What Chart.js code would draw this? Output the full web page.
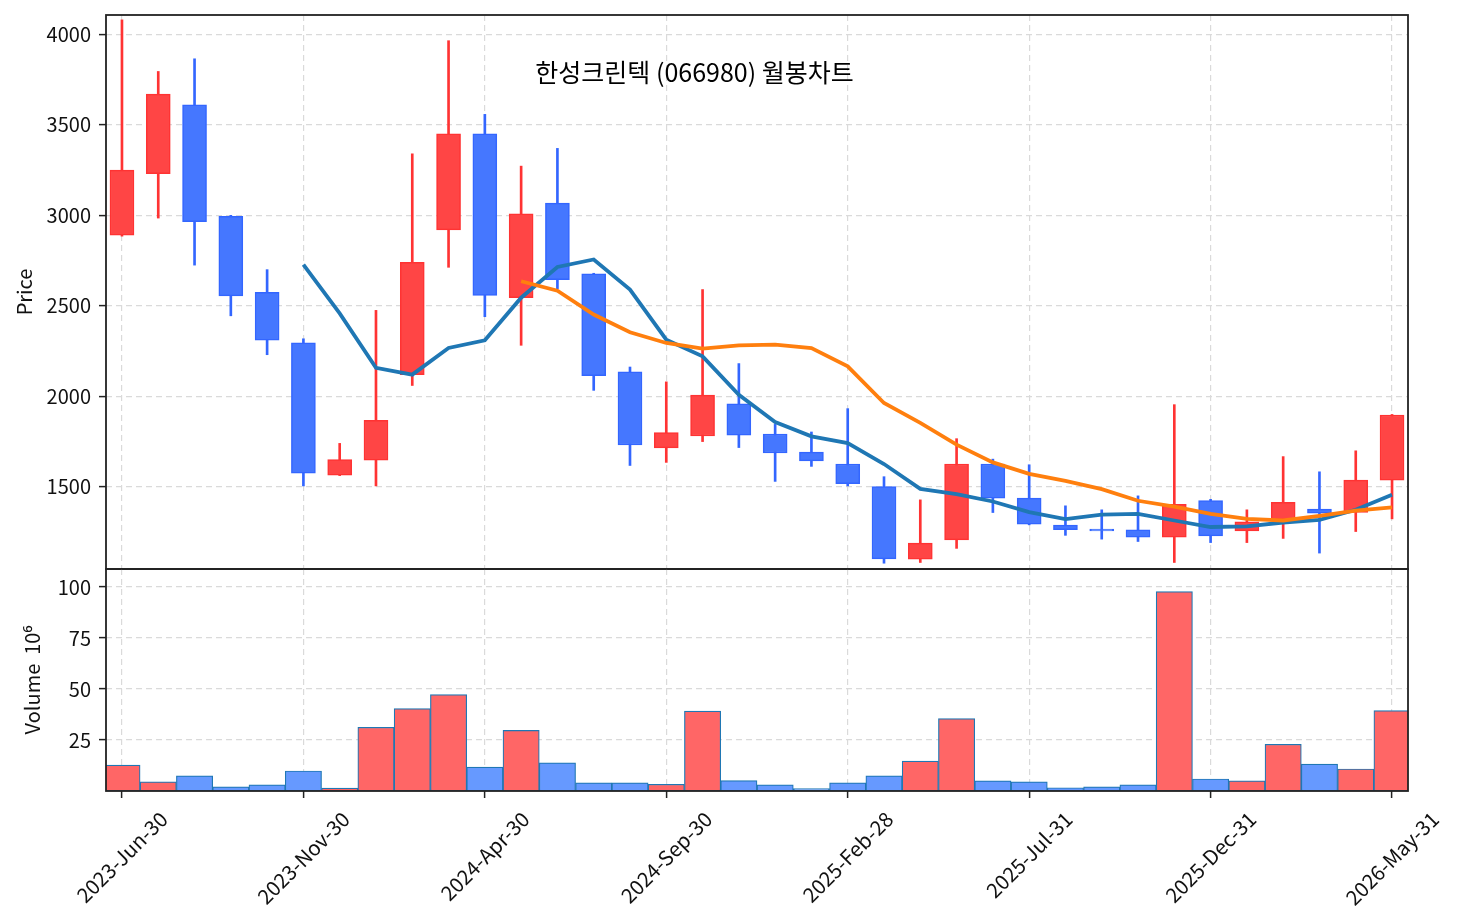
<!DOCTYPE html>
<html>
<head>
<meta charset="utf-8">
<script src="https://cdn.jsdelivr.net/npm/chart.js@4.4.1/dist/chart.umd.min.js"></script>
<style>
  html, body { margin: 0; padding: 0; background: #fff; }
  #wrap { position: relative; width: 1458px; height: 924px; }
  #priceChart { position: absolute; left: 0; top: 0; }
  #volChart { position: absolute; left: 0; top: 560px; }
</style>
</head>
<body>
<div id="wrap">
  <canvas id="priceChart" width="1458" height="570"></canvas>
  <canvas id="volChart" width="1458" height="364"></canvas>
</div>
<script>
// Monthly bars, 2023-06 .. 2026-05
const monthLabels = [
  '2023-Jun-30', '2023-Jul-31', '2023-Aug-31', '2023-Sep-30', '2023-Oct-31', '2023-Nov-30', '2023-Dec-31',
  '2024-Jan-31', '2024-Feb-29', '2024-Mar-31', '2024-Apr-30', '2024-May-31', '2024-Jun-30', '2024-Jul-31',
  '2024-Aug-31', '2024-Sep-30', '2024-Oct-31', '2024-Nov-30', '2024-Dec-31',
  '2025-Jan-31', '2025-Feb-28', '2025-Mar-31', '2025-Apr-30', '2025-May-31', '2025-Jun-30', '2025-Jul-31',
  '2025-Aug-31', '2025-Sep-30', '2025-Oct-31', '2025-Nov-30', '2025-Dec-31',
  '2026-Jan-31', '2026-Feb-28', '2026-Mar-31', '2026-Apr-30', '2026-May-31'
];
const tickIdx = [0, 5, 10, 15, 20, 25, 30, 35];
const priceTicks = [1500, 2000, 2500, 3000, 3500, 4000];
const volTicks = [25, 50, 75, 100];

const openPx  = [2890, 3230, 3610, 2995, 2575, 2295, 1565, 1648, 2120, 2920, 3450, 2545, 3068, 2677, 2135, 1715, 1781, 1958,
                 1792, 1692, 1626, 1502, 1100, 1207, 1626, 1438, 1288, 1266, 1263, 1222, 1424, 1257, 1318, 1377, 1358, 1537];
const closePx = [3250, 3670, 2965, 2555, 2310, 1575, 1650, 1868, 2740, 3450, 2557, 3008, 2645, 2114, 1731, 1800, 2007, 1786,
                 1687, 1643, 1517, 1102, 1189, 1626, 1438, 1294, 1263, 1256, 1222, 1404, 1229, 1306, 1415, 1355, 1537, 1897];
const highPx  = [4080, 3795, 3865, 3000, 2700, 2318, 1740, 2475, 3340, 3965, 3558, 3272, 3370, 2680, 2162, 2080, 2590, 2181,
                 1845, 1803, 1932, 1556, 1428, 1766, 1653, 1622, 1395, 1373, 1450, 1954, 1431, 1373, 1667, 1583, 1699, 1900];
const lowPx   = [2885, 2985, 2725, 2445, 2230, 1505, 1562, 1505, 2060, 2713, 2440, 2282, 2595, 2033, 1618, 1635, 1750, 1717,
                 1530, 1613, 1505, 1078, 1082, 1160, 1358, 1290, 1232, 1211, 1198, 1082, 1192, 1192, 1215, 1134, 1253, 1323];
// volume in millions
const volume  = [12.7, 4.5, 7.4, 2.0, 3.0, 9.8, 1.4, 31.2, 40.4, 47.2, 11.7, 29.7, 13.8, 4.0, 4.0, 3.3, 39.2, 5.1,
                 3.0, 1.2, 4.0, 7.4, 14.7, 35.5, 5.0, 4.5, 1.6, 2.0, 3.0, 97.7, 5.9, 5.0, 22.9, 13.2, 10.8, 39.4];
// moving averages
const ma6  = [null, null, null, null, null, 2728, 2458, 2158, 2120, 2267, 2310, 2545, 2715, 2756, 2590, 2313, 2221, 2009,
              1858, 1779, 1742, 1626, 1489, 1460, 1419, 1360, 1322, 1346, 1351, 1314, 1278, 1281, 1303, 1318, 1373, 1456];
const ma12 = [null, null, null, null, null, null, null, null, null, null, null, 2636, 2584, 2452, 2354, 2295, 2264, 2282,
              2286, 2267, 2166, 1963, 1853, 1733, 1635, 1572, 1533, 1487, 1423, 1391, 1351, 1323, 1314, 1340, 1368, 1386];

const chartTitle = '한성크린텍 (066980) 월봉차트';
const FONT = '"Noto Sans CJK KR", "Noto Sans", sans-serif';
const gridColor = '#dadada';
const isUp = openPx.map((o, i) => closePx[i] >= o);

// Frame round the plot area
const framePlugin = {
  id: 'frame',
  afterDraw(chart) {
    const { ctx, chartArea: a } = chart;
    ctx.save();
    ctx.strokeStyle = '#222';
    ctx.lineWidth = 1.8;
    ctx.strokeRect(a.left, a.top, a.right - a.left, a.bottom - a.top);
    ctx.restore();
  }
};

// Title sits inside the price panel
const titlePlugin = {
  id: 'innerTitle',
  afterDraw(chart) {
    const { ctx, chartArea: a } = chart;
    ctx.save();
    ctx.font = `25px ${FONT}`;
    ctx.fillStyle = '#000';
    ctx.textAlign = 'center';
    ctx.textBaseline = 'middle';
    ctx.fillText(chartTitle, a.left + 0.452 * (a.right - a.left), a.top + 0.103 * (a.bottom - a.top));
    ctx.restore();
  }
};

// Rotated date labels, centred under each tick
const dateLabelPlugin = {
  id: 'dateLabels',
  afterDraw(chart) {
    const { ctx, chartArea: a } = chart;
    const sx = chart.scales.x;
    ctx.save();
    ctx.font = `20.5px ${FONT}`;
    ctx.fillStyle = '#111';
    ctx.textAlign = 'center';
    ctx.textBaseline = 'middle';
    tickIdx.forEach(i => {
      const txt = monthLabels[i];
      const w = ctx.measureText(txt).width;
      const h = 18;
      const cx = sx.getPixelForValue(i);
      const cy = a.bottom + 18 + (w + h) / (2 * Math.SQRT2);
      ctx.save();
      ctx.translate(cx, cy);
      ctx.rotate(-Math.PI / 4);
      ctx.fillText(txt, 0, 0);
      ctx.restore();
    });
    ctx.restore();
  }
};

const noPad = s => { s.paddingTop = 0; s.paddingBottom = 0; s.paddingLeft = 0; s.paddingRight = 0; };

const xScale = (height, drawTicks) => ({
  type: 'linear',
  min: -0.44,
  max: 35.44,
  offset: false,
  afterBuildTicks: s => { s.ticks = tickIdx.map(v => ({ value: v })); },
  afterFit: s => { s.height = height; noPad(s); },
  ticks: { display: false },
  grid: { color: gridColor, lineWidth: 1.2, offset: false, drawTicks: drawTicks, tickColor: '#222', tickLength: 7, tickWidth: 1.5, tickBorderDash: [] },
  border: { display: false, dash: [6, 4] }
});

const yScale = (min, max, ticks, title, titlePad) => ({
  min: min,
  max: max,
  afterBuildTicks: s => { s.ticks = ticks.map(v => ({ value: v })); },
  afterFit: s => { s.width = 106; noPad(s); },
  ticks: { font: { family: FONT, size: 20 }, color: '#111', padding: 8, callback: v => String(v) },
  grid: { color: gridColor, lineWidth: 1.2, tickColor: '#222', tickLength: 7, tickWidth: 1.5, tickBorderDash: [] },
  border: { display: false, dash: [6, 4] },
  title: { display: true, text: title, font: { family: FONT, size: 20 }, color: '#111', padding: { top: titlePad, bottom: 0 } }
});

// Price panel: candles + moving averages
new Chart(document.getElementById('priceChart'), {
  type: 'bar',
  data: {
    datasets: [
      {
        type: 'line', label: 'MA12',
        data: ma12.map((v, i) => ({ x: i, y: v })),
        borderColor: '#ff7f0e', borderWidth: 3.8, pointRadius: 0, tension: 0, order: 0
      },
      {
        type: 'line', label: 'MA6',
        data: ma6.map((v, i) => ({ x: i, y: v })),
        borderColor: '#1f77b4', borderWidth: 3.8, pointRadius: 0, tension: 0, order: 1
      },
      {
        label: 'body',
        data: openPx.map((o, i) => ({ x: i, y: [o, closePx[i]] })),
        backgroundColor: isUp.map(u => u ? '#ff4545' : '#4577ff'),
        borderColor: isUp.map(u => u ? '#ff3333' : '#3366ff'),
        borderWidth: 1.5, borderSkipped: false, barThickness: 24, grouped: false, order: 2
      },
      {
        label: 'wick',
        data: lowPx.map((l, i) => ({ x: i, y: [l, highPx[i]] })),
        backgroundColor: isUp.map(u => u ? '#ff3333' : '#3366ff'),
        borderWidth: 0, barThickness: 2, grouped: false, order: 3
      }
    ]
  },
  options: {
    responsive: false,
    animation: false,
    layout: { padding: { left: 0, right: 50, top: 15, bottom: 1 } },
    plugins: { legend: { display: false }, tooltip: { enabled: false } },
    scales: {
      x: xScale(0, false),
      y: yScale(1046, 4107, priceTicks, 'Price', 12)
    }
  },
  plugins: [framePlugin, titlePlugin]
});

// Volume panel
new Chart(document.getElementById('volChart'), {
  type: 'bar',
  data: {
    datasets: [{
      label: 'Volume',
      data: volume.map((v, i) => ({ x: i, y: v })),
      backgroundColor: isUp.map(u => u ? '#ff6666' : '#6699ff'),
      borderColor: '#1f77b4',
      borderWidth: 1.2,
      borderSkipped: false,
      barPercentage: 1,
      categoryPercentage: 1
    }]
  },
  options: {
    responsive: false,
    animation: false,
    layout: { padding: { left: 0, right: 50, top: 9, bottom: 0 } },
    plugins: { legend: { display: false }, tooltip: { enabled: false } },
    scales: {
      x: xScale(133, true),
      y: yScale(0, 108.8, volTicks, 'Volume  10⁶', 20)
    }
  },
  plugins: [framePlugin, dateLabelPlugin]
});
</script>
</body>
</html>
